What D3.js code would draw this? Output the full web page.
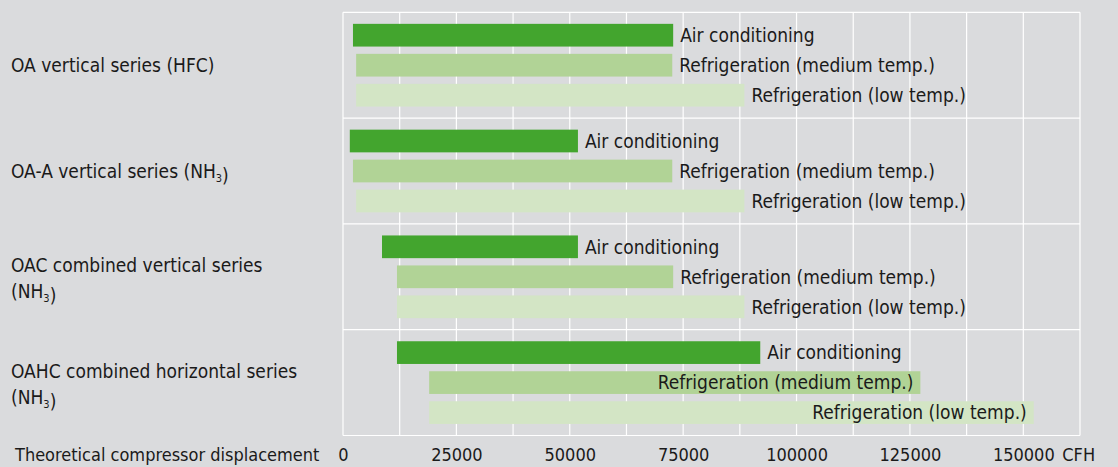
<!DOCTYPE html>
<html>
<head>
<meta charset="utf-8">
<script src="https://cdn.jsdelivr.net/npm/d3@7"></script>
<style>
  html, body { margin: 0; padding: 0; background: #dadbdd; }
  svg { display: block; }
  text { font-family: "DejaVu Sans Condensed", "DejaVu Sans", sans-serif; font-stretch: condensed; fill: #1a1a1a; }
</style>
</head>
<body>
<svg id="chart" width="1118" height="467"></svg>
<script>
// ---- data ----
const groupLabels = [
  ["OA vertical series (HFC)"],
  ["OA-A vertical series (NH_3)"],
  ["OAC combined vertical series", "(NH_3)"],
  ["OAHC combined horizontal series", "(NH_3)"]
];
const series = ["Air conditioning", "Refrigeration (medium temp.)", "Refrigeration (low temp.)"];
const seriesColors = ["#43a52e", "#b1d396", "#d3e5c5"];
// displacement ranges (CFH): start and end of each bar, per group, per series
const startValues = [
  [2200, 2900, 2900],
  [1500, 2200, 2900],
  [8600, 11900, 11900],
  [11900, 19000, 19000]
];
const endValues = [
  [72800, 72600, 88500],
  [51800, 72600, 88500],
  [51800, 72800, 88500],
  [92000, 127300, 152300]
];
const tickValues = [0, 25000, 50000, 75000, 100000, 125000, 150000];
const gridValues = d3.range(0, 162501, 12500);
const axisTitle = "Theoretical compressor displacement";
const unitLabel = "CFH";

// ---- layout ----
const svg = d3.select("#chart");
const fontSize = 19;
const axisFontSize = 18;
const mLeft = 343, mRight = 1080, mTop = 12.3, mBottom = 435.5;

const x = d3.scaleLinear().domain([0, 162500]).range([mLeft, mRight]);
const y = d3.scaleBand().domain(d3.range(groupLabels.length)).range([mTop, mBottom]);
const yInner = d3.scaleBand().domain(series).range([0, y.bandwidth()])
  .paddingInner(0.243).paddingOuter(0.385);

// grid
const grid = svg.append("g").attr("stroke", "#ffffff").attr("stroke-width", 1.2);
grid.selectAll("line.v").data(gridValues).join("line")
  .attr("class", "v")
  .attr("x1", d => x(d)).attr("x2", d => x(d))
  .attr("y1", mTop).attr("y2", mBottom);
const hVals = d3.range(groupLabels.length).map(i => y(i)).concat([mBottom]);
grid.selectAll("line.h").data(hVals).join("line")
  .attr("class", "h")
  .attr("x1", mLeft).attr("x2", mRight)
  .attr("y1", d => d).attr("y2", d => d);

// bars
const rows = [];
groupLabels.forEach((g, gi) => {
  series.forEach((s, si) => {
    rows.push({ gi, si, s, start: startValues[gi][si], end: endValues[gi][si] });
  });
});

const barG = svg.append("g");
barG.selectAll("rect").data(rows).join("rect")
  .attr("x", d => x(d.start))
  .attr("y", d => y(d.gi) + yInner(d.s))
  .attr("width", d => x(d.end) - x(d.start))
  .attr("height", yInner.bandwidth())
  .attr("fill", d => seriesColors[d.si]);

// bar labels
const lblG = svg.append("g");
lblG.selectAll("text").data(rows).join("text")
  .attr("font-size", fontSize)
  .attr("y", d => y(d.gi) + yInner(d.s) + yInner.bandwidth() / 2 + fontSize * 0.36)
  .text(d => d.s)
  .each(function (d) {
    const w = this.getComputedTextLength();
    const outX = x(d.end) + 7;
    if (outX + w > mRight) {
      d3.select(this).attr("x", x(d.end) - 7).attr("text-anchor", "end");
    } else {
      d3.select(this).attr("x", outX).attr("text-anchor", "start");
    }
  });

// group labels (with subscripts)
function addRich(textSel, str) {
  const parts = str.split(/_(\d)/);
  parts.forEach((p, i) => {
    if (p === "") return;
    if (i % 2 === 1) {
      textSel.append("tspan").attr("font-size", fontSize * 0.58).attr("dy", 4).text(p);
      textSel.append("tspan").attr("dy", -4).text("");
    } else {
      textSel.append("tspan").text(p);
    }
  });
}
const lineH = 26;
const gl = svg.append("g");
groupLabels.forEach((lines, gi) => {
  const cy = y(gi) + y.bandwidth() / 2;
  const n = lines.length;
  lines.forEach((ln, li) => {
    const t = gl.append("text")
      .attr("x", 11)
      .attr("font-size", fontSize)
      .attr("y", cy + (li - (n - 1) / 2) * lineH + fontSize * 0.36 + (n > 1 ? 1.5 : 0));
    addRich(t, ln);
  });
});

// x axis
const axis = d3.axisBottom(x).tickValues(tickValues).tickSize(0).tickFormat(d3.format("d"));
const axG = svg.append("g").attr("transform", `translate(0,${mBottom})`).call(axis);
axG.select(".domain").remove();
axG.selectAll("text")
  .attr("font-size", axisFontSize)
  .attr("fill", "#1a1a1a")
  .attr("dy", null)
  .attr("y", 461 - mBottom);
axG.attr("font-family", null).attr("font-size", null);

svg.append("text").attr("x", 15).attr("y", 461).attr("font-size", axisFontSize).text(axisTitle);
svg.append("text").attr("x", x(150000) + 39).attr("y", 461).attr("font-size", axisFontSize).text(unitLabel);
</script>
</body>
</html>
